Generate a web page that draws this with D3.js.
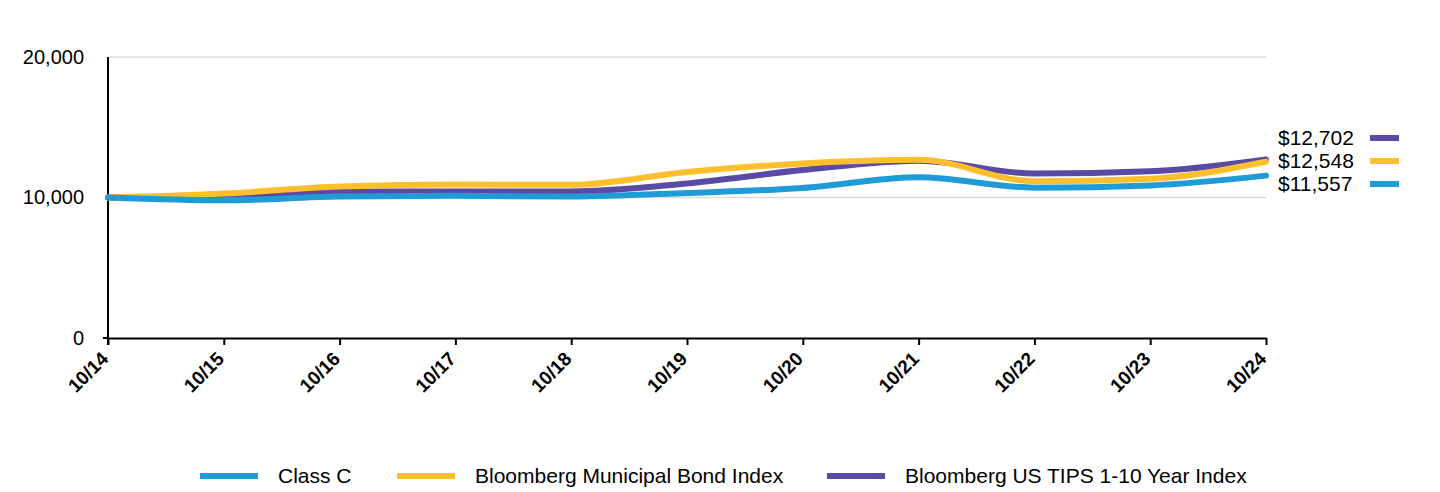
<!DOCTYPE html>
<html><head><meta charset="utf-8">
<script src="https://cdn.jsdelivr.net/npm/d3@7"></script>
<style>body{margin:0;background:#fff;font-family:"Liberation Sans",Arial,sans-serif}</style>
</head><body><svg id="c" width="1440" height="492"></svg>
<script>
const categories = ["10/14","10/15","10/16","10/17","10/18","10/19","10/20","10/21","10/22","10/23","10/24"];
const classC   = [10000, 9800, 10070, 10120, 10070, 10320, 10680, 11440, 10700, 10860, 11557];
const muni     = [10000, 10280, 10780, 10920, 10900, 11820, 12420, 12680, 11160, 11340, 12548];
const tips     = [10000, 9930, 10430, 10430, 10430, 11000, 11950, 12620, 11700, 11860, 12702];
const yTicks   = [0, 10000, 20000];
const seriesNames = ["Class C","Bloomberg Municipal Bond Index","Bloomberg US TIPS 1-10 Year Index"];
const endLabels = ["$12,702","$12,548","$11,557"];
const colors = {c:"#1f9bd7", m:"#fdbf2d", t:"#5a4aa3"};

const svg = d3.select("#c");
const L=108,R=1266,T=57,B=338;
const x = d3.scalePoint().domain(categories).range([L,R]);
const y = d3.scaleLinear().domain([0,20000]).range([B,T]);

// gridlines
svg.append("g").selectAll("line").data(yTicks.filter(d=>d>0)).join("line")
  .attr("x1",L).attr("x2",R).attr("y1",d=>y(d)).attr("y2",d=>y(d))
  .attr("stroke","#dcdcdc").attr("stroke-width",1.5);

// y axis
const ya = svg.append("g").attr("transform",`translate(${L},0)`)
  .call(d3.axisLeft(y).tickValues(yTicks).tickSize(0).tickPadding(24).tickFormat(d3.format(",")));
ya.select(".domain").remove();
ya.selectAll("text").attr("font-size",20).attr("font-family","Liberation Sans, Arial").attr("fill","#000");
svg.append("line").attr("x1",L).attr("x2",L).attr("y1",T).attr("y2",B+7).attr("stroke","#000").attr("stroke-width",2);
svg.append("line").attr("x1",L-5).attr("x2",L).attr("y1",B).attr("y2",B).attr("stroke","#000").attr("stroke-width",2);

// x axis
const xa = svg.append("g").attr("transform",`translate(0,${B})`)
  .call(d3.axisBottom(x).tickSize(7).tickSizeOuter(0));
xa.select(".domain").attr("stroke","#000").attr("stroke-width",2);
xa.selectAll(".tick line").attr("stroke","#000").attr("stroke-width",2);
xa.selectAll("text").attr("font-size",19).attr("font-weight","bold").attr("font-family","Liberation Sans, Arial")
  .attr("fill","#000").attr("text-anchor","end")
  .attr("x",0).attr("y",0).attr("dy",null)
  .attr("transform","translate(1,22) rotate(-45)");

// lines
const line = d3.line().x((d,i)=>x(categories[i])).y(d=>y(d)).curve(d3.curveMonotoneX);
[[tips,colors.t],[muni,colors.m],[classC,colors.c]].forEach(([data,col])=>{
  svg.append("path").datum(data).attr("d",line).attr("fill","none")
    .attr("stroke",col).attr("stroke-width",6).attr("stroke-linecap","round");
});

// end labels
const endData = [[endLabels[0],colors.t,138],[endLabels[1],colors.m,161],[endLabels[2],colors.c,184]];
endData.forEach(([t,col,yy])=>{
  svg.append("text").attr("x",1278).attr("y",yy).attr("dy","0.35em").attr("font-size",21).attr("fill","#000").text(t);
  svg.append("line").attr("x1",1370).attr("x2",1399).attr("y1",yy).attr("y2",yy).attr("stroke",col).attr("stroke-width",6);
});

// legend
const leg = [[seriesNames[0],colors.c,200],[seriesNames[1],colors.m,397],[seriesNames[2],colors.t,827]];
leg.forEach(([t,col,xx])=>{
  svg.append("line").attr("x1",xx).attr("x2",xx+58).attr("y1",476).attr("y2",476).attr("stroke",col).attr("stroke-width",6);
  svg.append("text").attr("x",xx+78).attr("y",476).attr("dy","0.35em").attr("font-size",21).attr("fill","#000").text(t);
});
</script></body></html>
